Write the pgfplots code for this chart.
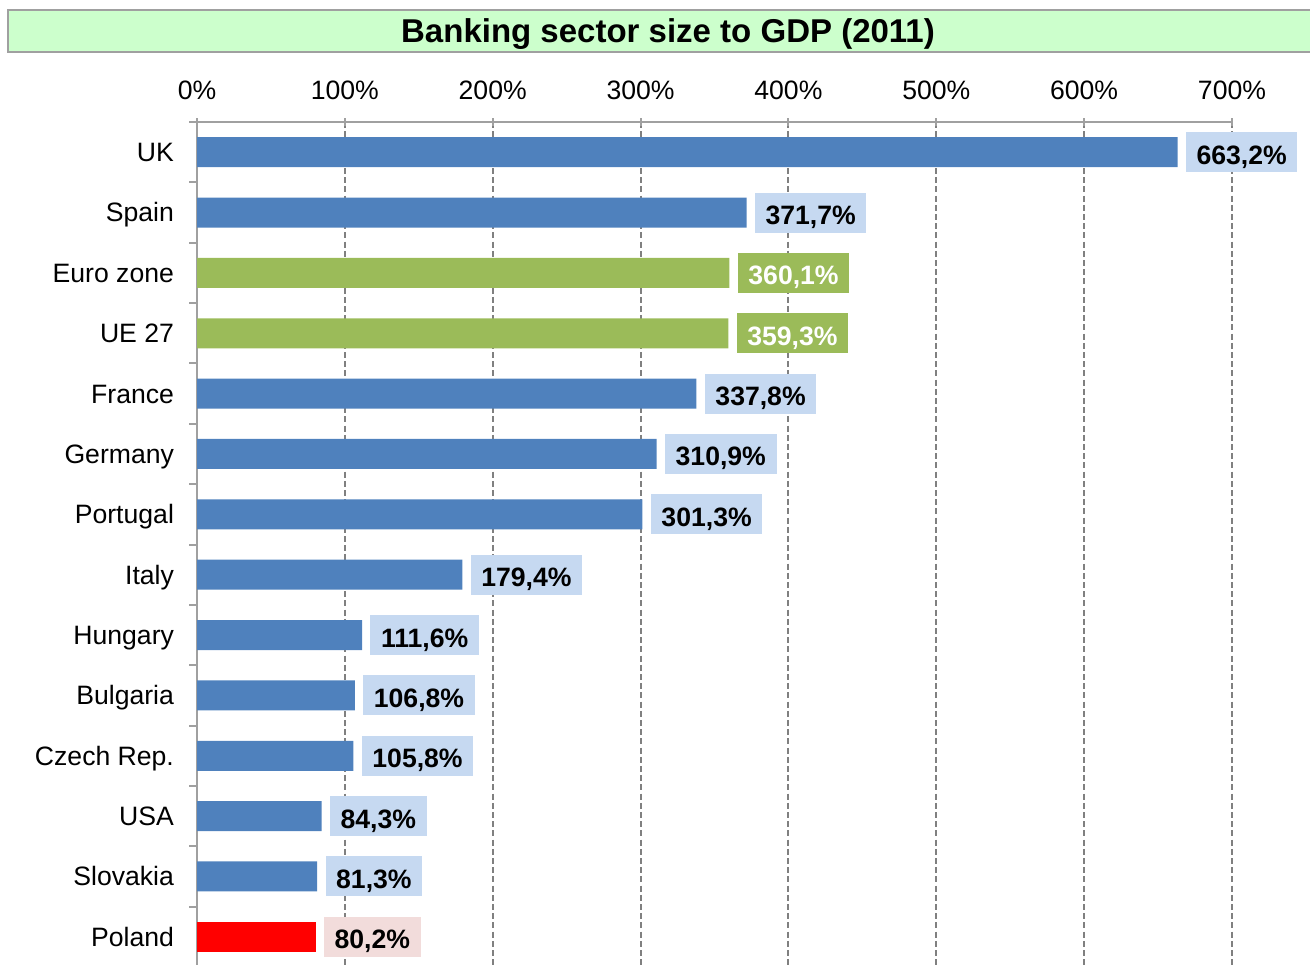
\documentclass[border=0pt]{standalone}
\usepackage{fontspec}
\setmainfont{Liberation Sans}
\usepackage{pgfplots}
\pgfplotsset{compat=1.18}
\definecolor{barblue}{HTML}{4F81BD}
\definecolor{bargreen}{HTML}{9BBB59}
\definecolor{boxblue}{HTML}{C6D9F1}
\definecolor{boxpink}{HTML}{F2DCDB}
\definecolor{titlegreen}{HTML}{CCFFCC}
\definecolor{axgray}{HTML}{A0A0A0}
\definecolor{gridgray}{HTML}{808080}
\begin{document}
\begin{tikzpicture}
\path[use as bounding box] (0pt,0pt) rectangle (655pt,482pt);
% title box
\draw[axgray, line width=1.2pt, fill=titlegreen] (4pt,456pt) rectangle (660pt,477pt);
\node[font=\fontsize{16.5}{19}\selectfont\bfseries] at (334pt,465pt) {Banking sector size to GDP (2011)};
\begin{axis}[
  at={(98.5pt,421pt)}, anchor=north west,
  scale only axis, width=517.5pt, height=422.5pt,
  xmin=0, xmax=700, ymin=-0.5, ymax=13.5,
  y dir=reverse,
  xbar, bar width=15pt, bar shift=0pt,
  axis x line*=top, axis y line*=left,
  axis line style={axgray, line width=1pt},
  xtick={0,100,...,700},
  xticklabel={\pgfmathprintnumber{\tick}\%},
  /pgf/number format/assume math mode=true,
  typeset ticklabels with strut,
  xticklabel style={font=\fontsize{13.3}{15}\selectfont, yshift=5.5pt},
  major tick length=4pt, xtick align=center, ytick align=outside,
  tick style={axgray, line width=1pt},
  xmajorgrids, major x grid style={gridgray, line width=1pt, dash pattern=on 3pt off 1.6pt},
  ytick={-0.5,0.5,...,13.5},
  y tick label as interval,
  yticklabels={UK,Spain,Euro zone,UE 27,France,Germany,Portugal,Italy,Hungary,Bulgaria,Czech Rep.,USA,Slovakia,Poland},
  yticklabel style={font=\fontsize{13.3}{15}\selectfont, xshift=-4pt, yshift=-1.7pt},
  nodes near coords={\pgfmathprintnumber[fixed,precision=1,fixed zerofill,use comma]{\pgfplotspointmeta}\%},
  every node near coord/.append style={font=\fontsize{13.3}{15}\selectfont\bfseries, anchor=west, xshift=4pt,
     minimum height=20pt, text height=12pt, text depth=0pt, inner ysep=0pt, inner xsep=5.3pt},
  clip=false,
]
\addplot[fill=barblue, draw=none, every node near coord/.append style={fill=boxblue, text=black}]
  coordinates {(663.2,0) (371.7,1) (337.8,4) (310.9,5) (301.3,6) (179.4,7) (111.6,8) (106.8,9) (105.8,10) (84.3,11) (81.3,12)};
\addplot[fill=bargreen, draw=none, every node near coord/.append style={fill=bargreen, text=white}]
  coordinates {(360.1,2) (359.3,3)};
\addplot[fill=red, draw=none, every node near coord/.append style={fill=boxpink, text=black}]
  coordinates {(80.2,13)};
\end{axis}
\end{tikzpicture}
\end{document}
